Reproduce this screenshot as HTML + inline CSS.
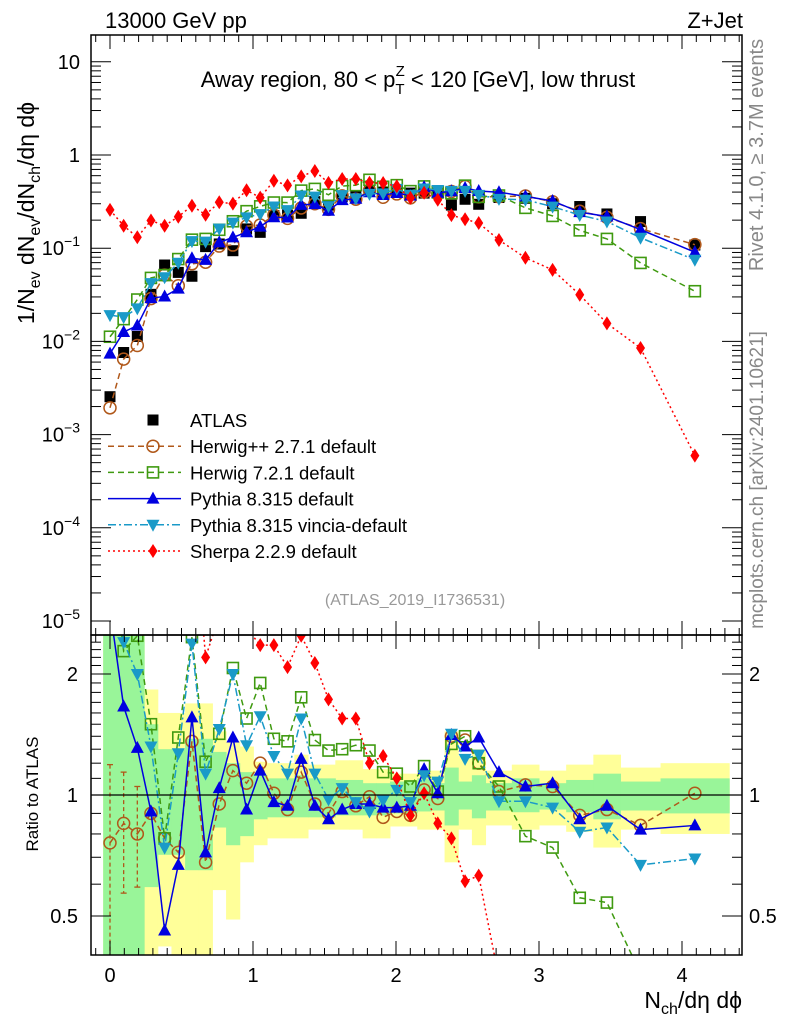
<!DOCTYPE html>
<html><head><meta charset="utf-8">
<style>
html,body{margin:0;padding:0;background:#fff;width:786px;height:1024px;overflow:hidden;}
svg{display:block;font-family:"Liberation Sans",sans-serif;}
</style></head>
<body>
<svg id="chart" width="786" height="1024" viewBox="0 0 786 1024" xmlns="http://www.w3.org/2000/svg">
<defs>
<clipPath id="clipMain"><rect x="91" y="35" width="651" height="600"/></clipPath>
<clipPath id="clipRatio"><rect x="91" y="635" width="651" height="320"/></clipPath>
</defs>
<g id="bands" clip-path="url(#clipRatio)"></g>
<g id="series"></g>
<g id="axes"></g>
<text x="105" y="28" font-size="22">13000 GeV pp</text>
<text x="743" y="28" font-size="22" text-anchor="end">Z+Jet</text>
<text x="418" y="87" font-size="22" text-anchor="middle">Away region, 80 &lt; p<tspan font-size="15" dy="7">T</tspan><tspan font-size="15" dx="-9" dy="-18">Z</tspan><tspan font-size="22" dy="11"> &lt; 120 [GeV], low thrust</tspan></text>
<text transform="translate(34,213) rotate(-90)" font-size="23" text-anchor="middle">1/N<tspan font-size="16" dy="6">ev</tspan><tspan dy="-6"> dN</tspan><tspan font-size="16" dy="6">ev</tspan><tspan dy="-6">/dN</tspan><tspan font-size="16" dy="6">ch</tspan><tspan dy="-6">/dη dϕ</tspan></text>
<text transform="translate(38,794) rotate(-90)" font-size="17" text-anchor="middle">Ratio to ATLAS</text>
<text transform="translate(763,155) rotate(-90)" font-size="20" fill="#888" text-anchor="middle">Rivet 4.1.0, ≥ 3.7M events</text>
<text transform="translate(763,480) rotate(-90)" font-size="19" fill="#888" text-anchor="middle">mcplots.cern.ch [arXiv:2401.10621]</text>
<text x="415" y="605" font-size="16" fill="#999" text-anchor="middle">(ATLAS_2019_I1736531)</text>
<text x="742" y="1008" font-size="23" text-anchor="end">N<tspan font-size="16" dy="6">ch</tspan><tspan dy="-6">/dη dϕ</tspan></text>
<g id="legend"></g>
</svg>
<script>
const xCenters = [];
for (let n = 0; n < 28; n++) xCenters.push(n * 0.0955);
const xWide = [2.72, 2.905, 3.095, 3.285, 3.475, 3.71, 4.09];
const xValues = xCenters.concat(xWide);
const binEdgesWide = [2.626, 2.81, 3.0, 3.19, 3.38, 3.57, 3.85, 4.33];

const atlas = [0.00255,0.0076,0.0113,0.032,0.066,0.055,0.050,0.104,0.111,0.094,0.161,0.148,0.224,0.227,0.237,0.316,0.29,0.357,0.357,0.42,0.40,0.42,0.39,0.39,0.39,0.29,0.335,0.296,0.35,0.343,0.30,0.28,0.233,0.193,0.108];
const herwigPPRatio = [0.76,0.85,0.80,0.90,0.78,0.72,1.36,0.68,0.95,1.15,1.07,1.20,1.01,0.92,1.14,0.95,0.90,1.02,0.94,0.99,0.88,0.91,0.89,1.03,0.98,1.40,1.37,1.20,1.02,1.06,1.05,0.89,0.92,0.84,1.01];
const herwigPPErrLo = [0.3,0.57,0.59];
const herwigPPErrHi = [1.19,1.14,1.05];
const herwig7Ratio = [4.4,2.28,2.49,1.50,0.78,1.39,2.47,1.21,1.42,2.07,1.55,1.90,1.38,1.36,1.75,1.37,1.29,1.30,1.33,1.29,1.14,1.13,1.05,1.18,1.02,1.34,1.40,1.20,1.05,0.79,0.74,0.555,0.54,0.36,0.32];
const pythiaRatio = [2.9,1.66,1.31,0.91,0.46,0.67,1.56,0.72,1.04,1.39,0.92,1.15,0.96,0.94,1.23,0.94,0.87,0.92,0.95,0.95,0.93,0.93,0.94,1.16,1.01,1.41,1.32,1.39,1.14,1.05,1.07,0.87,0.94,0.82,0.84];
const vinciaRatio = [7.5,2.40,2.0,1.32,0.74,1.27,2.38,1.13,1.46,2.0,1.33,1.57,1.25,1.13,1.55,1.13,0.975,1.04,0.96,0.91,0.97,1.03,0.96,1.12,1.08,1.42,1.23,1.26,0.965,0.965,0.93,0.81,0.83,0.67,0.695];
const sherpaRatio = [101,22.9,11.6,6.2,2.64,3.96,5.7,2.2,2.8,3.2,2.6,2.36,2.36,2.08,2.49,2.13,1.73,1.55,1.55,1.20,1.25,1.10,0.89,1.01,0.85,0.78,0.61,0.63,0.35,0.23,0.195,0.113,0.067,0.044,0.0055];
const greenLo = [0.39,0.39,0.39,0.59,0.71,0.71,0.65,0.65,0.83,0.75,0.79,0.87,0.88,0.88,0.88,0.88,0.88,0.89,0.89,0.89,0.89,0.90,0.90,0.91,0.915,0.84,0.92,0.875,0.915,0.906,0.92,0.906,0.87,0.915,0.90];
const greenHi = [2.5,2.5,2.5,1.5,1.30,1.30,1.38,1.38,1.28,1.20,1.14,1.12,1.10,1.10,1.12,1.10,1.10,1.09,1.09,1.07,1.07,1.08,1.08,1.10,1.07,1.17,1.08,1.12,1.07,1.10,1.07,1.09,1.13,1.08,1.10];
const yellowLo = [0.39,0.39,0.39,0.39,0.42,0.40,0.39,0.39,0.58,0.49,0.68,0.75,0.78,0.78,0.78,0.82,0.82,0.82,0.82,0.78,0.78,0.835,0.835,0.82,0.82,0.68,0.82,0.75,0.84,0.82,0.84,0.81,0.74,0.82,0.80];
const yellowHi = [2.6,2.6,2.6,1.83,1.6,1.6,1.69,1.69,1.44,1.36,1.32,1.21,1.20,1.20,1.26,1.19,1.19,1.22,1.22,1.16,1.16,1.13,1.13,1.15,1.15,1.44,1.25,1.30,1.15,1.19,1.15,1.19,1.26,1.17,1.20];
const xTickLabels = ["0","1","2","3","4"];
const yTickLabels = ["10","1","10^-1","10^-2","10^-3","10^-4","10^-5"];
const ratioTickLabels = ["0.5","1","2"];

const NS = "http://www.w3.org/2000/svg";
const X0 = 110, XS = 143;
function xPos(v){ return X0 + XS * v; }
function yMain(v){ return 155 - 93.2 * Math.log10(v); }
function yRatio(r){ return 795 - 121 * Math.log2(r); }
function mk(tag, attrs, parent){
  const e = document.createElementNS(NS, tag);
  for (const k in attrs) e.setAttribute(k, attrs[k]);
  parent.appendChild(e);
  return e;
}
const bands = document.getElementById('bands');
const axes = document.getElementById('axes');
const seriesG = document.getElementById('series');
const legend = document.getElementById('legend');

function binEdges(i){
  if (i < 28) return [(i - 0.5) * 0.0955, (i + 0.5) * 0.0955];
  return [binEdgesWide[i - 28], binEdgesWide[i - 27]];
}
for (let i = 0; i < xValues.length; i++) {
  const [a, b] = binEdges(i);
  const y1 = mk('rect', {x: xPos(a), y: yRatio(yellowHi[i]), width: xPos(b) - xPos(a) + 0.5, height: yRatio(yellowLo[i]) - yRatio(yellowHi[i]), fill: '#ffff99'}, bands);
  
  
}
for (let i = 0; i < xValues.length; i++) {
  const [a, b] = binEdges(i);
  const g1 = mk('rect', {x: xPos(a), y: yRatio(greenHi[i]), width: xPos(b) - xPos(a) + 0.5, height: yRatio(greenLo[i]) - yRatio(greenHi[i]), fill: '#99f599'}, bands);
  
  
}
const unity = mk('line', {x1: 91, x2: 742, y1: yRatio(1), y2: yRatio(1), stroke: '#000', 'stroke-width': 1.3}, axes);



const f1 = mk('rect', {x: 91, y: 35, width: 651, height: 600, fill: 'none', stroke: '#000', 'stroke-width': 1.5}, axes);


const f2 = mk('rect', {x: 91, y: 635, width: 651, height: 320, fill: 'none', stroke: '#000', 'stroke-width': 1.5}, axes);



for (let k = -1; k <= 44; k++) {
  const v = k / 10; const px = xPos(v);
  if (px < 92 || px > 741) continue;
  const major = k % 10 === 0; const L = major ? 14 : 7;
  mk('line', {x1: px, x2: px, y1: 35, y2: 35 + L, stroke: '#000'}, axes);
  mk('line', {x1: px, x2: px, y1: 635, y2: 635 - L, stroke: '#000'}, axes);
  mk('line', {x1: px, x2: px, y1: 635, y2: 635 + L, stroke: '#000'}, axes);
  mk('line', {x1: px, x2: px, y1: 955, y2: 955 - L, stroke: '#000'}, axes);
}
xTickLabels.forEach((t, i) => {
  const tx = mk('text', {x: xPos(i), y: 982, 'font-size': 20, 'text-anchor': 'middle'}, axes);
  tx.textContent = t;
  
  
});
for (let d = -5; d <= 1; d++) {
  for (let m = 1; m <= 9; m++) {
    const v = m * Math.pow(10, d); const py = yMain(v);
    if (py < 36 || py > 634) continue;
    const L = m === 1 ? 20 : 10;
    mk('line', {x1: 91, x2: 91 + L, y1: py, y2: py, stroke: '#000'}, axes);
    mk('line', {x1: 742, x2: 742 - L, y1: py, y2: py, stroke: '#000'}, axes);
  }
}
yTickLabels.forEach((t, i) => {
  const py = yMain(Math.pow(10, 1 - i)) + 7;
  const tx = mk('text', {x: 80, y: py, 'font-size': 20, 'text-anchor': 'end'}, axes);
  if (t.indexOf('^') >= 0) {
    const parts = t.split('^');
    tx.textContent = parts[0];
    const sup = mk('tspan', {'font-size': 14, dy: -9}, tx);
    sup.textContent = parts[1].replace('-', '−');
  } else tx.textContent = t;
  
  
});
for (let k = 4; k <= 25; k++) {
  const r = k / 10; const py = yRatio(r);
  if (py < 636 || py > 954) continue;
  const major = (k === 5 || k === 10 || k === 20); const L = major ? 20 : 10;
  mk('line', {x1: 91, x2: 91 + L, y1: py, y2: py, stroke: '#000'}, axes);
  mk('line', {x1: 742, x2: 742 - L, y1: py, y2: py, stroke: '#000'}, axes);
}
ratioTickLabels.forEach(t => {
  const py = yRatio(parseFloat(t)) + 7;
  const a = mk('text', {x: 78, y: py, 'font-size': 20, 'text-anchor': 'end'}, axes);
  a.textContent = t;
  
  
  const b = mk('text', {x: 749, y: py, 'font-size': 20}, axes);
  b.textContent = t;
  
  
});

function marker(type, cx, cy, color, parent, s){
  s = s || 1;
  if (type === 'square') return mk('rect', {x: cx - 5.5*s, y: cy - 5.5*s, width: 11*s, height: 11*s, fill: '#000'}, parent);
  if (type === 'circle') return mk('circle', {cx: cx, cy: cy, r: 6*s, fill: 'none', stroke: color, 'stroke-width': 1.5}, parent);
  if (type === 'osquare') return mk('rect', {x: cx - 5.5*s, y: cy - 5.5*s, width: 11*s, height: 11*s, fill: 'none', stroke: color, 'stroke-width': 1.6}, parent);
  if (type === 'tri') return mk('polygon', {points: `${cx},${cy-7*s} ${cx-6.5*s},${cy+5*s} ${cx+6.5*s},${cy+5*s}`, fill: color}, parent);
  if (type === 'dtri') return mk('polygon', {points: `${cx},${cy+7*s} ${cx-6.5*s},${cy-5*s} ${cx+6.5*s},${cy-5*s}`, fill: color}, parent);
  if (type === 'diamond') return mk('polygon', {points: `${cx},${cy-7*s} ${cx+4.5*s},${cy} ${cx},${cy+7*s} ${cx-4.5*s},${cy}`, fill: color}, parent);
}

const mcSeries = [
  {name: 'Herwig++ 2.7.1 default', key: 'herwigpp', ratio: herwigPPRatio, color: '#b0581a', dash: '6,4', m: 'circle'},
  {name: 'Herwig 7.2.1 default', key: 'herwig7', ratio: herwig7Ratio, color: '#3f9a10', dash: '6,4', m: 'osquare'},
  {name: 'Pythia 8.315 default', key: 'pythia', ratio: pythiaRatio, color: '#0000e0', dash: '', m: 'tri'},
  {name: 'Pythia 8.315 vincia-default', key: 'vincia', ratio: vinciaRatio, color: '#1a9ac8', dash: '8,3,2,3', m: 'dtri'},
  {name: 'Sherpa 2.2.9 default', key: 'sherpa', ratio: sherpaRatio, color: '#ff0000', dash: '2,3', m: 'diamond'}
];

const gMain = mk('g', {'clip-path': 'url(#clipMain)'}, seriesG);
const gRat = mk('g', {'clip-path': 'url(#clipRatio)'}, seriesG);
const ga = mk('g', {}, gMain);


xValues.forEach((x, i) => { const p = marker('square', xPos(x), yMain(atlas[i]), '#000', ga);
  
   });

// herwig++ error bars in ratio
const ge = mk('g', {}, gRat);


herwigPPErrLo.forEach((lo, i) => {
  const px = xPos(xValues[i]);
  mk('line', {x1: px, x2: px, y1: yRatio(herwigPPErrHi[i]), y2: yRatio(lo), stroke: '#b0581a', 'stroke-width': 1.3, 'stroke-dasharray': '4,3'}, ge);
  mk('line', {x1: px - 3, x2: px + 3, y1: yRatio(herwigPPErrHi[i]), y2: yRatio(herwigPPErrHi[i]), stroke: '#b0581a', 'stroke-width': 1.3}, ge);
  mk('line', {x1: px - 3, x2: px + 3, y1: yRatio(lo), y2: yRatio(lo), stroke: '#b0581a', 'stroke-width': 1.3}, ge);
});

mcSeries.forEach(s => {
  const mainVals = s.ratio.map((r, i) => r * atlas[i]);
  const ptsMain = xValues.map((x, i) => `${xPos(x)},${yMain(mainVals[i])}`).join(' ');
  const ptsRat = xValues.map((x, i) => `${xPos(x)},${yRatio(s.ratio[i])}`).join(' ');
  const gm = mk('g', {}, gMain);
  
  
  mk('polyline', {points: ptsMain, fill: 'none', stroke: s.color, 'stroke-width': 1.5, 'stroke-dasharray': s.dash}, gm);
  xValues.forEach((x, i) => { const p = marker(s.m, xPos(x), yMain(mainVals[i]), s.color, gm);
    
     });
  const gr = mk('g', {}, gRat);
  
  
  mk('polyline', {points: ptsRat, fill: 'none', stroke: s.color, 'stroke-width': 1.5, 'stroke-dasharray': s.dash}, gr);
  xValues.forEach((x, i) => { const p = marker(s.m, xPos(x), yRatio(s.ratio[i]), s.color, gr);
    
     });
});

const legendItems = [{name: 'ATLAS', color: '#000', dash: null, m: 'square'}].concat(mcSeries);
legendItems.forEach((s, i) => {
  const y = 420 + i * 26.2;
  const g = mk('g', {}, legend);
  
  
  if (s.dash !== null) mk('line', {x1: 108, x2: 181, y1: y, y2: y, stroke: s.color, 'stroke-width': 1.5, 'stroke-dasharray': s.dash}, g);
  marker(s.m, 153, y, s.color, g);
  const t = mk('text', {x: 190, y: y + 7, 'font-size': 18.5}, g);
  t.textContent = s.name;
});
</script>
</body></html>
